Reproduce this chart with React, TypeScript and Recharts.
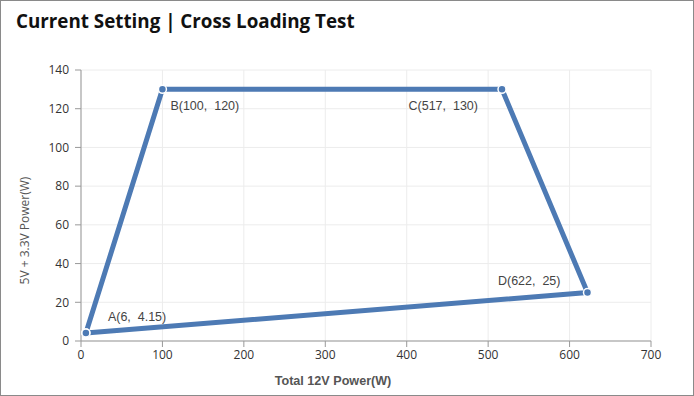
import React from "react";
import { LineChart, Line, XAxis, YAxis, CartesianGrid, Label } from "recharts";

const pointNames = ["A", "B", "C", "D", "A"];
const xValues = [6, 100, 517, 622, 6];
const yValues = [4.15, 130, 130, 25, 4.15];
const pointLabels = ["A(6,  4.15)", "B(100,  120)", "C(517,  130)", "D(622,  25)", ""];
const xTicks = [0, 100, 200, 300, 400, 500, 600, 700];
const yTicks = [0, 20, 40, 60, 80, 100, 120, 140];

const data = xValues.map((x, i) => ({ name: pointNames[i], x, y: yValues[i], label: pointLabels[i] }));

const labelPlacement = [
  { dx: 22, dy: -12, anchor: "start" },
  { dx: 8, dy: 21, anchor: "start" },
  { dx: -24, dy: 21, anchor: "end" },
  { dx: -27, dy: -8, anchor: "end" },
  { dx: 0, dy: 0, anchor: "start" },
];

const COLOR = "#4d7ab4";

const PointLabel = (props: any) => {
  const { x, y, index } = props;
  const text = pointLabels[index];
  if (!text) return null;
  const p = labelPlacement[index];
  return (
    <text
      x={x + p.dx}
      y={y + p.dy}
      textAnchor={p.anchor}
      fill="#444"
      fontFamily="'Liberation Sans', Arial, sans-serif"
      fontSize={12.5}
      style={{ whiteSpace: "pre" }}
    >
      {text}
    </text>
  );
};

const Dot = (props: any) => {
  const { cx, cy } = props;
  return <circle cx={cx} cy={cy} r={4} fill={COLOR} stroke="#fff" strokeWidth={1.5} />;
};

export default function App() {
  return (
    <div style={{ position: "absolute", left: 0, top: 0, width: 694, height: 396, background: "#fff" }}>
      <div
        style={{
          position: "absolute",
          left: 16,
          top: 8,
          fontFamily: "'Open Sans', sans-serif",
          fontWeight: 700,
          fontSize: 18.8,
          color: "#111",
          whiteSpace: "nowrap",
        }}
      >
        Current Setting | Cross Loading Test
      </div>
      <LineChart
        width={694}
        height={396}
        data={data}
        margin={{ top: 70, right: 43, left: 0, bottom: 0 }}
        style={{ position: "absolute", left: 0, top: 0 }}
      >
        <CartesianGrid stroke="#ececec" />
        <XAxis
          type="number"
          dataKey="x"
          domain={[0, 700]}
          ticks={xTicks}
          height={55}
          tickSize={6}
          tickMargin={3}
          stroke="#999"
          tick={{ fill: "#333", fontSize: 12, fontFamily: "'Open Sans', sans-serif" }}
        >
          <Label
            value="Total 12V Power(W)"
            position="insideBottom"
            offset={11}
            dx={-33}
            fill="#555"
            fontSize={12.6}
            fontWeight="bold"
            fontFamily="'Liberation Sans', Arial, sans-serif"
          />
        </XAxis>
        <YAxis
          type="number"
          dataKey="y"
          domain={[0, 140]}
          ticks={yTicks}
          width={81}
          tickSize={6}
          tickMargin={6}
          stroke="#999"
          tick={{ fill: "#333", fontSize: 12, fontFamily: "'Open Sans', sans-serif" }}
        >
          <Label
            value="5V + 3.3V Power(W)"
            angle={-90}
            position="insideLeft"
            offset={25}
            dy={25}
            fill="#555"
            fontSize={12}
            fontFamily="'Open Sans', sans-serif"
            style={{ textAnchor: "middle" }}
          />
        </YAxis>
        <Line
          type="linear"
          dataKey="y"
          stroke={COLOR}
          strokeWidth={5}
          dot={<Dot />}
          activeDot={false}
          label={<PointLabel />}
          isAnimationActive={false}
        />
      </LineChart>
      <div
        style={{
          position: "absolute",
          left: 0,
          top: 0,
          width: 694,
          height: 396,
          boxSizing: "border-box",
          border: "1px solid #8a8a8a",
          pointerEvents: "none",
        }}
      />
    </div>
  );
}
